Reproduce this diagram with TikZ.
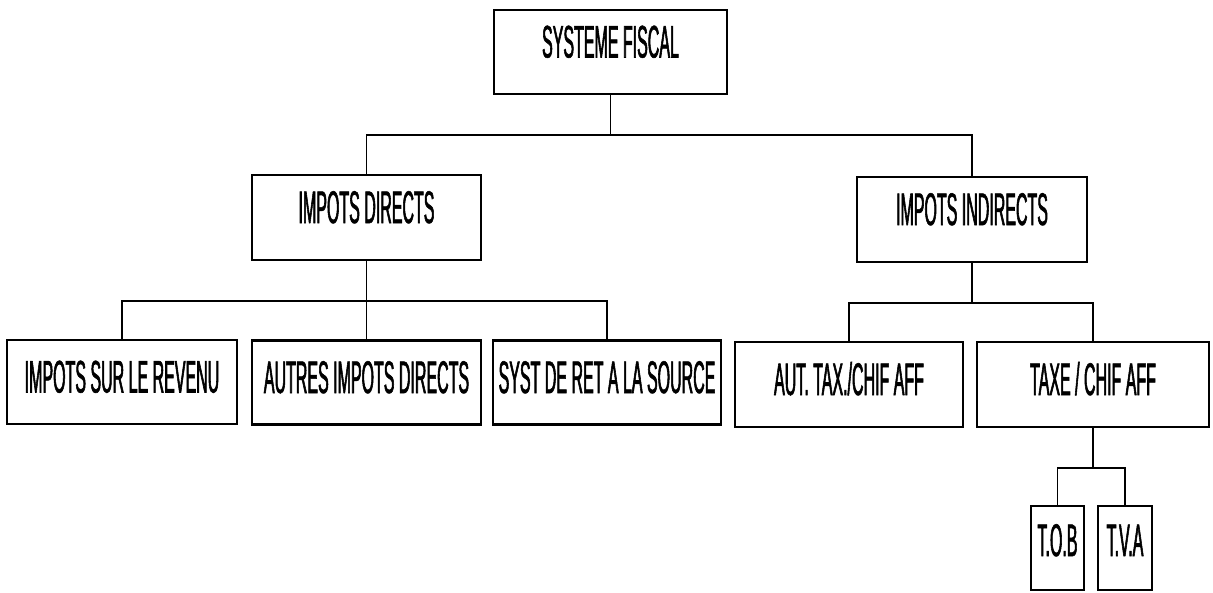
\documentclass[tikz,border=0pt]{standalone}
\usepackage{fontspec}
\setmainfont{Liberation Sans}[FakeStretch=0.35,FakeBold=1.2]
\usetikzlibrary{calc}

\tikzset{
  boite/.style={draw,line width=1.2pt,inner sep=0pt,
    minimum height=1.68cm,text height=0.66cm,text depth=0.44cm,
    font=\fontsize{26}{28}\selectfont},
  boitebas/.style={boite,text depth=0.24cm},
  lien/.style={line width=0.9pt}
}

\begin{document}
\begin{tikzpicture}[x=0.02cm,y=-0.02cm]
	\useasboundingbox (0,0) rectangle (1213,592);
	% niveau 1
	\node[boite,minimum width=4.66cm] (sys) at (610.5,52) {SYSTEME FISCAL};
	% niveau 2
	\node[boite,minimum width=4.58cm,minimum height=1.7cm] (dir) at (366.5,217.5) {IMPOTS DIRECTS};
	\node[boite,minimum width=4.6cm,minimum height=1.7cm] (ind) at (972,219.5) {IMPOTS INDIRECTS};
	% niveau 3
	\node[boitebas,minimum width=4.6cm] (rev) at (122,382) {IMPOTS SUR LE REVENU};
	\node[boitebas,minimum width=4.58cm] (aut) at (366.5,382.5) {AUTRES IMPOTS DIRECTS};
	\node[boitebas,minimum width=4.56cm] (syst) at (607,382.5) {SYST DE RET A LA SOURCE};
	\node[boitebas,minimum width=4.56cm,minimum height=1.7cm] (autax) at (849,384.5) {AUT. TAX./CHIF AFF};
	\node[boitebas,minimum width=4.64cm,minimum height=1.7cm] (taxe) at (1093,384.5) {TAXE / CHIF AFF};
	% niveau 4
	\node[boite,text depth=0.34cm,minimum width=1.06cm] (tob) at (1057.5,548) {T.O.B};
	\node[boite,text depth=0.34cm,minimum width=1.08cm] (tva) at (1125,548) {T.V.A};
	% barres
	\coordinate (b1) at ($(sys.south)+(0,40)$);
	\coordinate (b2) at ($(dir.south)+(0,40)$);
	\coordinate (b3) at ($(ind.south)+(0,40)$);
	\coordinate (b4) at ($(taxe.south)+(0,40)$);
	% liaisons
	\draw[lien] (sys.south) -- (b1);
	\draw[lien] (dir.north) |- (b1) -| (ind.north);
	\draw[lien] (dir.south) -- (aut.north);
	\draw[lien] (rev.north) |- (b2) -| (syst.north);
	\draw[lien] (ind.south) -- (b3);
	\draw[lien] (autax.north) |- (b3) -| (taxe.north);
	\draw[lien] (taxe.south) -- (b4);
	\draw[lien] (tob.north) |- (b4) -| (tva.north);
\end{tikzpicture}
\end{document}
